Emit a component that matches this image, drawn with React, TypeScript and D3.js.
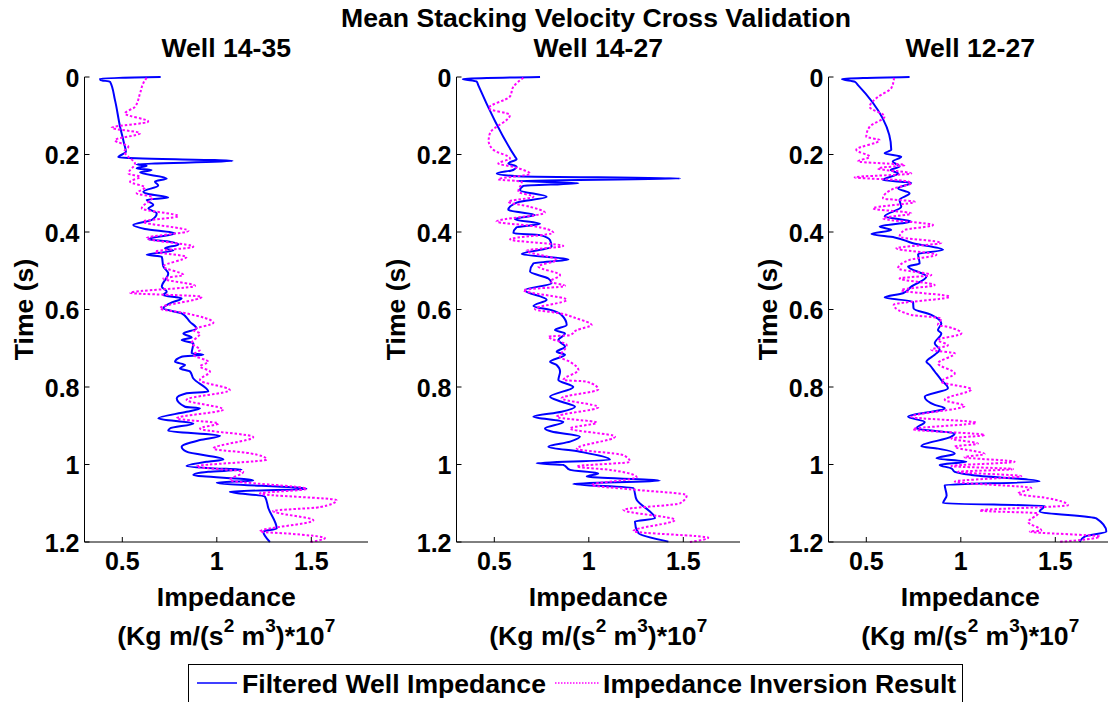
import * as d3 from "d3";

// [time (s), impedance (x1e7)]
const wellNames = ["Well 14-35", "Well 14-27", "Well 12-27"];
const timeTicks = [0, 0.2, 0.4, 0.6, 0.8, 1, 1.2];
const impTicks = [0.5, 1, 1.5];
const seriesNames = ["Filtered Well Impedance", "Impedance Inversion Result"];

const well1435Filtered: [number, number][] = [
  [0.000, 0.703], [0.004, 0.382], [0.008, 0.385], [0.012, 0.435], [0.059, 0.461],
  [0.128, 0.488], [0.171, 0.509], [0.193, 0.519], [0.207, 0.479], [0.217, 1.084],
  [0.225, 0.576], [0.229, 0.629], [0.236, 0.576], [0.240, 0.655], [0.246, 0.594],
  [0.262, 0.735], [0.270, 0.673], [0.280, 0.690], [0.296, 0.611], [0.302, 0.638],
  [0.311, 0.743], [0.317, 0.629], [0.330, 0.664], [0.339, 0.638], [0.352, 0.682],
  [0.369, 0.655], [0.382, 0.558], [0.392, 0.620], [0.403, 0.779], [0.419, 0.638],
  [0.424, 0.735], [0.432, 0.797], [0.442, 0.726], [0.448, 0.770], [0.459, 0.629],
  [0.464, 0.709], [0.489, 0.717], [0.507, 0.743], [0.541, 0.709], [0.554, 0.735],
  [0.563, 0.717], [0.571, 0.814], [0.584, 0.752], [0.597, 0.717], [0.610, 0.814],
  [0.632, 0.858], [0.649, 0.893], [0.662, 0.823], [0.672, 0.867], [0.679, 0.814],
  [0.687, 0.876], [0.713, 0.867], [0.717, 0.929], [0.722, 0.814], [0.735, 0.779],
  [0.743, 0.832], [0.752, 0.805], [0.760, 0.858], [0.778, 0.876], [0.812, 0.955],
  [0.816, 0.840], [0.829, 0.788], [0.851, 0.832], [0.855, 0.911], [0.864, 0.840],
  [0.881, 0.691], [0.894, 0.876], [0.907, 0.752], [0.913, 0.743], [0.926, 1.017],
  [0.937, 0.911], [0.954, 0.814], [0.967, 0.840], [0.987, 1.035], [0.993, 0.946],
  [1.004, 0.840], [1.010, 0.982], [1.013, 1.131], [1.019, 0.955], [1.027, 0.876],
  [1.041, 1.193], [1.047, 1.000], [1.063, 1.475], [1.070, 1.069], [1.083, 1.255],
  [1.113, 1.273], [1.165, 1.317], [1.173, 1.246], [1.200, 1.281],
];

const well1435Inversion: [number, number][] = [
  [0.002, 0.629], [0.016, 0.611], [0.042, 0.594], [0.077, 0.567], [0.094, 0.514],
  [0.115, 0.637], [0.131, 0.444], [0.145, 0.594], [0.163, 0.461], [0.180, 0.532],
  [0.192, 0.510], [0.206, 0.532], [0.223, 0.567], [0.249, 0.532], [0.258, 0.594],
  [0.270, 0.541], [0.285, 0.620], [0.300, 0.576], [0.310, 0.660], [0.339, 0.603],
  [0.359, 0.797], [0.373, 0.611], [0.397, 0.850], [0.416, 0.629], [0.438, 0.876],
  [0.451, 0.673], [0.464, 0.840], [0.489, 0.717], [0.511, 0.823], [0.520, 0.717],
  [0.539, 0.885], [0.557, 0.541], [0.567, 0.920], [0.597, 0.699], [0.610, 0.840],
  [0.634, 0.982], [0.653, 0.876], [0.662, 0.911], [0.687, 0.867], [0.704, 0.911],
  [0.717, 0.876], [0.735, 0.955], [0.747, 0.911], [0.760, 0.964], [0.782, 0.911],
  [0.808, 1.069], [0.833, 0.840], [0.858, 1.035], [0.881, 0.788], [0.894, 1.008],
  [0.907, 0.911], [0.929, 1.193], [0.959, 0.982], [0.971, 1.176], [0.987, 1.264],
  [1.005, 0.893], [1.019, 1.140], [1.040, 1.069], [1.063, 1.475], [1.075, 1.228],
  [1.092, 1.634], [1.110, 1.546], [1.120, 1.298], [1.144, 1.511], [1.173, 1.228],
  [1.178, 1.370], [1.190, 1.572], [1.200, 1.493],
];

const well1427Filtered: [number, number][] = [
  [0.000, 0.742], [0.005, 0.333], [0.012, 0.407], [0.021, 0.415], [0.206, 0.610],
  [0.212, 0.618], [0.223, 0.574], [0.231, 0.618], [0.240, 0.600], [0.249, 0.513],
  [0.256, 0.620], [0.262, 1.483], [0.268, 0.618], [0.274, 0.945], [0.281, 0.654],
  [0.292, 0.636], [0.309, 0.777], [0.324, 0.618], [0.343, 0.574], [0.356, 0.715],
  [0.367, 0.609], [0.379, 0.742], [0.388, 0.618], [0.403, 0.601], [0.408, 0.742],
  [0.421, 0.795], [0.438, 0.803], [0.457, 0.645], [0.471, 0.892], [0.481, 0.707],
  [0.502, 0.689], [0.520, 0.786], [0.532, 0.803], [0.550, 0.662], [0.575, 0.777],
  [0.591, 0.707], [0.602, 0.803], [0.614, 0.856], [0.640, 0.883], [0.653, 0.821],
  [0.662, 0.874], [0.679, 0.839], [0.696, 0.874], [0.709, 0.830], [0.717, 0.874],
  [0.735, 0.795], [0.743, 0.830], [0.760, 0.848], [0.782, 0.839], [0.800, 0.918],
  [0.825, 0.795], [0.838, 0.856], [0.851, 0.927], [0.864, 0.856], [0.877, 0.707],
  [0.890, 0.865], [0.907, 0.768], [0.915, 0.803], [0.928, 0.953], [0.941, 0.901],
  [0.954, 0.786], [0.967, 0.953], [0.988, 1.112], [0.997, 0.724], [1.001, 0.865],
  [1.014, 0.901], [1.023, 1.050], [1.031, 0.989], [1.042, 1.376], [1.050, 0.918],
  [1.061, 1.236], [1.091, 1.253], [1.139, 1.350], [1.147, 1.244], [1.177, 1.262],
  [1.199, 1.421],
];

const well1427Inversion: [number, number][] = [
  [0.002, 0.654], [0.025, 0.601], [0.050, 0.583], [0.081, 0.469], [0.098, 0.583],
  [0.145, 0.477], [0.165, 0.470], [0.188, 0.495], [0.210, 0.583], [0.223, 0.521],
  [0.232, 0.600], [0.250, 0.689], [0.264, 0.521], [0.270, 0.645], [0.296, 0.627],
  [0.309, 0.707], [0.322, 0.574], [0.335, 0.689], [0.350, 0.768], [0.373, 0.512],
  [0.385, 0.707], [0.402, 0.812], [0.419, 0.583], [0.436, 0.865], [0.448, 0.671],
  [0.472, 0.830], [0.489, 0.733], [0.511, 0.848], [0.528, 0.795], [0.539, 0.874],
  [0.550, 0.654], [0.575, 0.883], [0.599, 0.715], [0.610, 0.848], [0.623, 0.936],
  [0.640, 1.015], [0.653, 0.936], [0.666, 0.900], [0.670, 0.786], [0.692, 0.883],
  [0.722, 0.848], [0.735, 0.900], [0.756, 0.945], [0.782, 0.865], [0.786, 0.989],
  [0.806, 1.050], [0.829, 0.856], [0.852, 1.050], [0.877, 0.830], [0.892, 1.042],
  [0.907, 0.900], [0.928, 1.139], [0.959, 0.936], [0.976, 1.183], [0.993, 1.218],
  [1.005, 0.936], [1.014, 1.112], [1.033, 1.253], [1.053, 1.015], [1.064, 1.218],
  [1.079, 1.518], [1.100, 1.483], [1.117, 1.183], [1.143, 1.456], [1.172, 1.236],
  [1.189, 1.632], [1.200, 1.535],
];

const well1227Filtered: [number, number][] = [
  [0.000, 0.729], [0.005, 0.371], [0.012, 0.438], [0.021, 0.456], [0.188, 0.632],
  [0.197, 0.597], [0.206, 0.685], [0.218, 0.640], [0.231, 0.676], [0.240, 0.630],
  [0.249, 0.668], [0.266, 0.588], [0.273, 0.738], [0.287, 0.668], [0.300, 0.729],
  [0.317, 0.676], [0.335, 0.685], [0.360, 0.597], [0.373, 0.738], [0.386, 0.571],
  [0.395, 0.632], [0.405, 0.527], [0.414, 0.650], [0.429, 0.747], [0.446, 0.906],
  [0.457, 0.774], [0.481, 0.782], [0.489, 0.721], [0.515, 0.818], [0.541, 0.738],
  [0.558, 0.694], [0.569, 0.597], [0.580, 0.747], [0.597, 0.750], [0.614, 0.844],
  [0.636, 0.897], [0.653, 0.879], [0.662, 0.897], [0.687, 0.862], [0.704, 0.888],
  [0.717, 0.862], [0.735, 0.818], [0.743, 0.835], [0.760, 0.862], [0.782, 0.897],
  [0.803, 0.932], [0.825, 0.809], [0.846, 0.862], [0.855, 0.915], [0.877, 0.721],
  [0.890, 0.809], [0.907, 0.765], [0.920, 0.968], [0.928, 0.950], [0.953, 0.791],
  [0.959, 0.879], [0.972, 0.968], [0.984, 0.871], [0.993, 1.029], [1.001, 0.888],
  [1.010, 0.950], [1.019, 0.968], [1.027, 1.056], [1.044, 1.417], [1.053, 0.915],
  [1.080, 0.925], [1.100, 0.906], [1.107, 1.444], [1.121, 1.417], [1.139, 1.717],
  [1.173, 1.770], [1.186, 1.655], [1.200, 1.629],
];

const well1227Inversion: [number, number][] = [
  [0.002, 0.647], [0.029, 0.632], [0.051, 0.562], [0.077, 0.518], [0.102, 0.597],
  [0.128, 0.518], [0.154, 0.500], [0.163, 0.571], [0.188, 0.447], [0.206, 0.518],
  [0.218, 0.456], [0.227, 0.703], [0.236, 0.562], [0.249, 0.738], [0.259, 0.438],
  [0.266, 0.668], [0.274, 0.738], [0.287, 0.650], [0.313, 0.588], [0.322, 0.756],
  [0.339, 0.535], [0.352, 0.738], [0.365, 0.588], [0.382, 0.853], [0.395, 0.703],
  [0.412, 0.676], [0.428, 0.897], [0.442, 0.659], [0.459, 0.871], [0.472, 0.729],
  [0.494, 0.668], [0.511, 0.844], [0.520, 0.676], [0.537, 0.862], [0.550, 0.685],
  [0.567, 0.941], [0.588, 0.645], [0.614, 0.738], [0.623, 0.897], [0.640, 0.879],
  [0.645, 0.932], [0.662, 1.003], [0.679, 0.879], [0.692, 0.932], [0.704, 0.844],
  [0.713, 0.968], [0.739, 0.879], [0.765, 0.968], [0.786, 0.897], [0.806, 1.056],
  [0.833, 0.915], [0.849, 1.020], [0.877, 0.738], [0.892, 1.082], [0.909, 0.747],
  [0.924, 1.126], [0.933, 0.950], [0.946, 1.091], [0.954, 0.968], [0.973, 1.126],
  [0.981, 1.020], [0.993, 1.285], [1.004, 0.950], [1.012, 1.276], [1.019, 0.985],
  [1.030, 1.320], [1.044, 0.968], [1.061, 1.373], [1.075, 1.303], [1.087, 1.461],
  [1.105, 1.567], [1.119, 1.100], [1.126, 1.409], [1.148, 1.356], [1.170, 1.426],
  [1.173, 1.365], [1.186, 1.735], [1.200, 1.515],
];

const filtered = [well1435Filtered, well1427Filtered, well1227Filtered];
const inversion = [well1435Inversion, well1427Inversion, well1227Inversion];

const W = 1108, H = 702;
const FONT = "'Liberation Sans', Arial, Helvetica, sans-serif";
const BIG = 26.6, TICK = 25;
const panelLeft = [84.5, 456.5, 828.5];
const panelW = 283.5;
const top = 77, bottom = 542;
const BLUE = "#0000ff", MAGENTA = "#ff00ff";

function Panel({ i }: { i: number }) {
  const x0 = panelLeft[i];
  const x = d3.scaleLinear().domain([0.3, 1.8]).range([x0, x0 + panelW]);
  const y = d3.scaleLinear().domain([0, 1.2]).range([top, bottom]);
  const line = d3.line<[number, number]>()
    .x((d) => x(d[1]))
    .y((d) => y(d[0]))
    .curve(d3.curveMonotoneY);
  const cx = x0 + panelW / 2;

  return (
    <g>
      <path d={line(filtered[i]) || ""} fill="none" stroke={BLUE} strokeWidth={2} strokeLinejoin="round" />
      <path d={line(inversion[i]) || ""} fill="none" stroke={MAGENTA} strokeWidth={2}
        strokeDasharray="2.5 2" />

      <line x1={x0} x2={x0} y1={top} y2={bottom} stroke="#000" strokeWidth={1} />
      <line x1={x0} x2={x0 + panelW} y1={bottom} y2={bottom} stroke="#000" strokeWidth={1} />
      {timeTicks.map((t) => (
        <g key={t}>
          <line x1={x0} x2={x0 + 5} y1={y(t)} y2={y(t)} stroke="#000" />
          <text x={x0 - 5} y={y(t) + 9.5} textAnchor="end" fontSize={TICK} fontWeight="bold">{String(t)}</text>
        </g>
      ))}
      {impTicks.map((v) => (
        <g key={v}>
          <line x1={x(v)} x2={x(v)} y1={bottom} y2={bottom - 5} stroke="#000" />
          <text x={x(v)} y={bottom + 28} textAnchor="middle" fontSize={TICK} fontWeight="bold">{String(v)}</text>
        </g>
      ))}

      <text x={cx} y={57} textAnchor="middle" fontSize={BIG} fontWeight="bold">{wellNames[i]}</text>
      <text transform={`translate(${x0 - 52},${(top + bottom) / 2}) rotate(-90)`} textAnchor="middle"
        fontSize={BIG} fontWeight="bold">Time (s)</text>
      <text x={cx} y={606} textAnchor="middle" fontSize={BIG} fontWeight="bold">Impedance</text>
      <text x={cx} y={645} textAnchor="middle" fontSize={BIG} fontWeight="bold">
        (Kg m/(s<tspan fontSize={19} dy={-13}>2</tspan>
        <tspan dy={13}> m</tspan><tspan fontSize={19} dy={-13}>3</tspan>
        <tspan dy={13}>)*10</tspan><tspan fontSize={19} dy={-13}>7</tspan>
      </text>
    </g>
  );
}

export default function App() {
  return (
    <svg width={W} height={H} style={{ position: "absolute", left: 0, top: 0, background: "#fff" }}
      fontFamily={FONT} fill="#000">
      <rect width={W} height={H} fill="#fff" />
      <text x={596} y={27} textAnchor="middle" fontSize={BIG} fontWeight="bold">
        Mean Stacking Velocity Cross Validation
      </text>
      {wellNames.map((_, i) => <Panel key={i} i={i} />)}

      <rect x={188.5} y={664.5} width={774} height={60} fill="#fff" stroke="#000" strokeWidth={1} />
      <line x1={197} x2={237} y1={683} y2={683} stroke={BLUE} strokeWidth={1.5} />
      <text x={242} y={693} fontSize={BIG} fontWeight="bold">{seriesNames[0]}</text>
      <line x1={555} x2={599} y1={683} y2={683} stroke={MAGENTA} strokeWidth={1.5} strokeDasharray="1.5 1.5" />
      <text x={603} y={693} fontSize={BIG} fontWeight="bold">{seriesNames[1]}</text>
    </svg>
  );
}
